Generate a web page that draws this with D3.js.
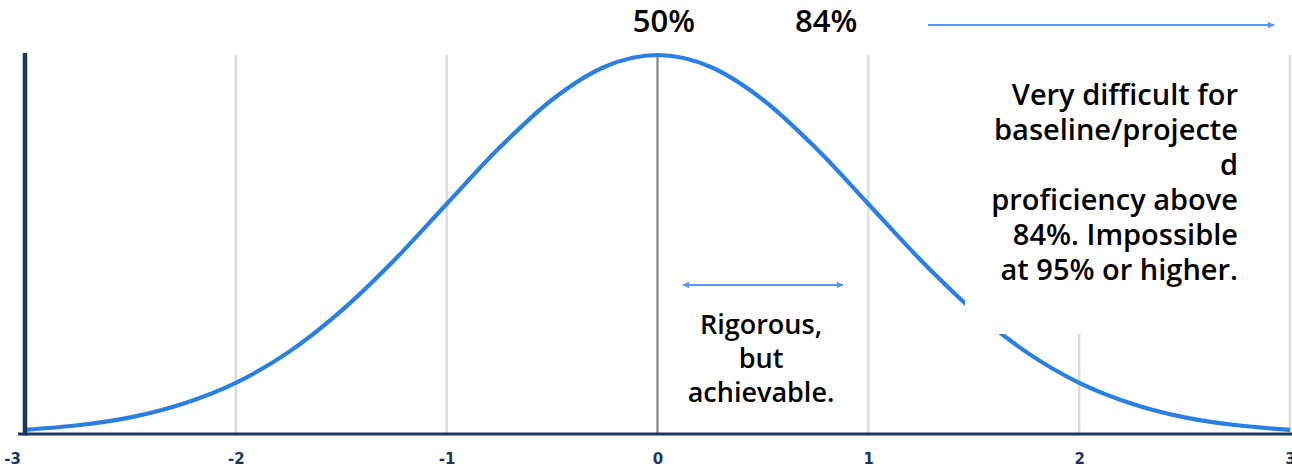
<!DOCTYPE html>
<html>
<head>
<meta charset="utf-8">
<script src="https://cdn.jsdelivr.net/npm/d3@7"></script>
<style>
  html, body { margin: 0; padding: 0; background: #fff; }
  svg { display: block; }
  text { font-family: "Open Sans", "Noto Sans", sans-serif; }
</style>
</head>
<body>
<svg id="chart" width="1292" height="468"></svg>
<script>
// ---- data ----
const zValues = [-3, -2.75, -2.5, -2.25, -2, -1.75, -1.5, -1.25, -1, -0.75, -0.5, -0.25, 0,
                 0.25, 0.5, 0.75, 1, 1.25, 1.5, 1.75, 2, 2.25, 2.5, 2.75, 3];
const density = [0.011, 0.023, 0.044, 0.080, 0.135, 0.216, 0.325, 0.458, 0.607, 0.755, 0.882, 0.969, 1.0,
                 0.969, 0.882, 0.755, 0.607, 0.458, 0.325, 0.216, 0.135, 0.080, 0.044, 0.023, 0.011];
const tickValues = [-3, -2, -1, 0, 1, 2, 3];
const tickLabels = ["-3", "-2", "-1", "0", "1", "2", "3"];
const gridValues = [-2, -1, 1, 2, 3];
const percentLabels = ["50%", "84%"];
const middleLines = ["Rigorous,", "but", "achievable."];
const boxLines = ["Very difficult for", "baseline/projecte", "d", "proficiency above", "84%. Impossible", "at 95% or higher."];

// ---- layout ----
const svg = d3.select("#chart");
const x = d3.scaleLinear().domain([-3, 3]).range([25, 1290]);
const y = d3.scaleLinear().domain([0, 1]).range([434, 55]);
const points = zValues.map((z, i) => ({ z, d: density[i] }));

const blue = "#2b7fe0";
const arrowBlue = "#5b95ee";
const navy = "#1b365d";

const defs = svg.append("defs");
defs.append("marker").attr("id", "arrEnd").attr("viewBox", "0 0 10 10")
  .attr("refX", 9).attr("refY", 5).attr("markerWidth", 7).attr("markerHeight", 7)
  .attr("orient", "auto").attr("markerUnits", "userSpaceOnUse")
  .append("path").attr("d", "M0,0 L10,5 L0,10 z").attr("fill", arrowBlue);
defs.append("marker").attr("id", "arrStart").attr("viewBox", "0 0 10 10")
  .attr("refX", 1).attr("refY", 5).attr("markerWidth", 7).attr("markerHeight", 7)
  .attr("orient", "auto").attr("markerUnits", "userSpaceOnUse")
  .append("path").attr("d", "M10,0 L0,5 L10,10 z").attr("fill", arrowBlue);

// gridlines
svg.append("g").selectAll("line").data(gridValues).join("line")
  .attr("x1", d => x(d)).attr("x2", d => x(d))
  .attr("y1", y(1)).attr("y2", y(0))
  .attr("stroke", "#dadcdf").attr("stroke-width", 2.5);

// zero line
svg.append("line")
  .attr("x1", x(0)).attr("x2", x(0)).attr("y1", y(1)).attr("y2", y(0))
  .attr("stroke", "#8c9196").attr("stroke-width", 2.5);

// curve
const line = d3.line().x(d => x(d.z)).y(d => y(d.d)).curve(d3.curveMonotoneX);
svg.append("path").datum(points)
  .attr("d", line).attr("fill", "none")
  .attr("stroke", blue).attr("stroke-width", 4.2);

// white annotation box covering the curve
svg.append("rect")
  .attr("x", 965).attr("y", 48).attr("width", 319).attr("height", 286)
  .attr("fill", "#fff");

// axes
const xAxis = d3.axisBottom(x).tickValues(tickValues)
  .tickFormat((d, i) => tickLabels[i]).tickSize(0).tickPadding(19);
const gx = svg.append("g").attr("transform", `translate(0,${y(0)})`).call(xAxis);
gx.select(".domain").remove();
gx.selectAll("text")
  .style("font-family", "'DejaVu Sans', sans-serif")
  .style("font-size", "15px").style("font-weight", "bold")
  .attr("fill", navy)
  .attr("dx", d => d === -3 ? -13 : 0);

svg.append("line").attr("x1", 18).attr("x2", 1292).attr("y1", y(0)).attr("y2", y(0))
  .attr("stroke", navy).attr("stroke-width", 3);
svg.append("line").attr("x1", x(-3)).attr("x2", x(-3)).attr("y1", 53).attr("y2", y(0) + 1.5)
  .attr("stroke", navy).attr("stroke-width", 4.5);

// percent labels
const pctX = [x(0.03), x(0.8)];
svg.append("g").selectAll("text").data(percentLabels).join("text")
  .attr("x", (d, i) => pctX[i]).attr("y", 32)
  .attr("text-anchor", "middle")
  .style("font-size", "31px").style("font-weight", 600).attr("fill", "#000")
  .text(d => d);

// top arrow
svg.append("line").attr("x1", 928).attr("x2", 1274).attr("y1", 25).attr("y2", 25)
  .attr("stroke", arrowBlue).attr("stroke-width", 1.8).attr("marker-end", "url(#arrEnd)");

// double arrow
svg.append("line").attr("x1", 683).attr("x2", 843).attr("y1", 285).attr("y2", 285)
  .attr("stroke", arrowBlue).attr("stroke-width", 1.8)
  .attr("marker-start", "url(#arrStart)").attr("marker-end", "url(#arrEnd)");

// middle text
svg.append("g").selectAll("text").data(middleLines).join("text")
  .attr("x", 761).attr("y", (d, i) => 334 + i * 34)
  .attr("text-anchor", "middle")
  .style("font-size", "27px").style("font-weight", 600).attr("fill", "#000")
  .text(d => d);

// box text
svg.append("g").selectAll("text").data(boxLines).join("text")
  .attr("x", 1238).attr("y", (d, i) => 105 + i * 35)
  .attr("text-anchor", "end")
  .style("font-size", "29px").style("font-weight", 600).attr("fill", "#000")
  .text(d => d);
</script>
</body>
</html>
